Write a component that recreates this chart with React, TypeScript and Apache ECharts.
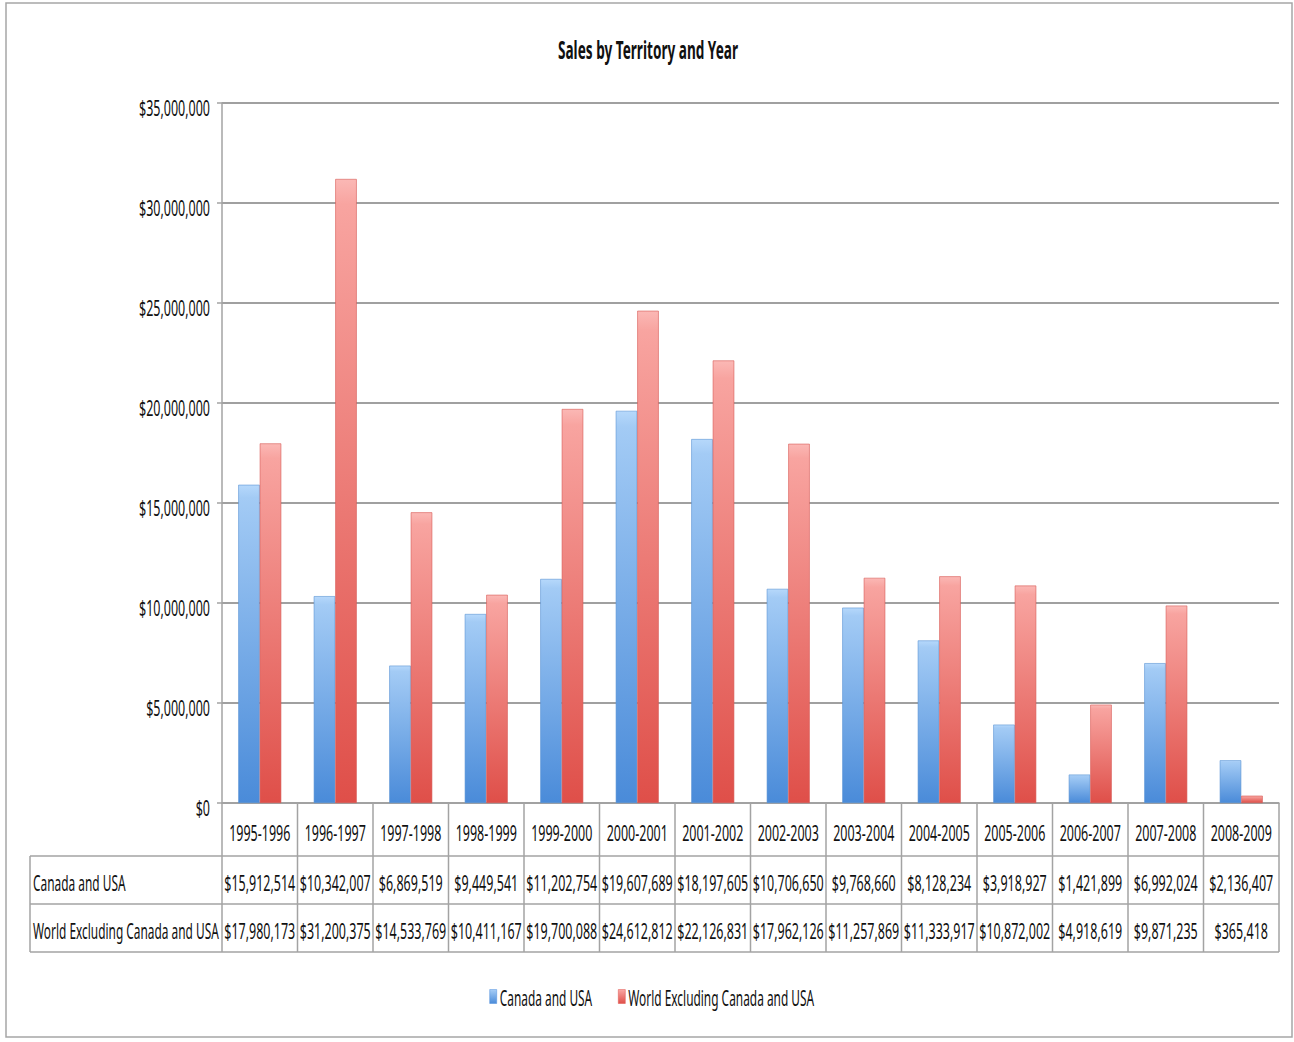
import React, { useEffect, useRef } from "react";
import * as echarts from "echarts";

// Fiscal-year categories and sales per territory
const seasons = [
  "1995-1996", "1996-1997", "1997-1998", "1998-1999", "1999-2000", "2000-2001", "2001-2002",
  "2002-2003", "2003-2004", "2004-2005", "2005-2006", "2006-2007", "2007-2008", "2008-2009",
];
const canadaUsa = [
  15912514, 10342007, 6869519, 9449541, 11202754, 19607689, 18197605,
  10706650, 9768660, 8128234, 3918927, 1421899, 6992024, 2136407,
];
const worldExcluding = [
  17980173, 31200375, 14533769, 10411167, 19700088, 24612812, 22126831,
  17962126, 11257869, 11333917, 10872002, 4918619, 9871235, 365418,
];
const seriesNames = ["Canada and USA", "World Excluding Canada and USA"];
const yTickValues = [0, 5000000, 10000000, 15000000, 20000000, 25000000, 30000000, 35000000];
const chartTitle = "Sales by Territory and Year";

const FONT = "'Noto Sans', 'Open Sans', sans-serif";
const FONT_SIZE = 12.5;
const STRETCH = 1.75;
const TEXT_COLOR = "#111111";
const LINE_COLOR = "#a3a3a3";

const money = (v: number) => "$" + v.toLocaleString("en-US");

const blueFill = {
  type: "linear", x: 0, y: 0, x2: 0, y2: 1,
  colorStops: [
    { offset: 0, color: "#b6d8fb" },
    { offset: 0.04, color: "#a3cbf5" },
    { offset: 1, color: "#4a8bd9" },
  ],
};
const redFill = {
  type: "linear", x: 0, y: 0, x2: 0, y2: 1,
  colorStops: [
    { offset: 0, color: "#fbb8b5" },
    { offset: 0.04, color: "#f8a4a0" },
    { offset: 1, color: "#df4f49" },
  ],
};
const legendColors = ["#4f8fdc", "#e0534d"];

function measure(text: string, size: number, weight = "normal") {
  const ctx = document.createElement("canvas").getContext("2d");
  if (!ctx) return text.length * size * 0.55;
  ctx.font = `${weight} ${size}px ${FONT}`;
  return ctx.measureText(text).width;
}

function label(
  text: string,
  x: number,
  y: number,
  align: "left" | "center" | "right" = "center",
  extra: Record<string, any> = {}
) {
  return {
    type: "text",
    x,
    y,
    scaleX: extra.scaleX ?? 1,
    scaleY: extra.scaleY ?? STRETCH,
    silent: true,
    z: 10,
    style: {
      text,
      fontFamily: FONT,
      fontSize: extra.fontSize ?? FONT_SIZE,
      fontWeight: extra.fontWeight ?? "normal",
      fill: TEXT_COLOR,
      align,
      verticalAlign: "middle",
    },
  };
}

function hLine(x1: number, x2: number, y: number) {
  return {
    type: "line",
    silent: true,
    shape: { x1, y1: y, x2, y2: y },
    style: { stroke: LINE_COLOR, lineWidth: 1.5 },
  };
}
function vLine(x: number, y1: number, y2: number) {
  return {
    type: "line",
    silent: true,
    shape: { x1: x, y1, x2: x, y2 },
    style: { stroke: LINE_COLOR, lineWidth: 1.5 },
  };
}

export default function App() {
  const ref = useRef<HTMLDivElement>(null);

  useEffect(() => {
    document.body.style.margin = "0";
    if (!ref.current) return;
    const chart = echarts.init(ref.current, undefined, { renderer: "svg" });

    chart.setOption({
      animation: false,
      backgroundColor: "#ffffff",
      grid: { left: 222, right: 15, top: 103, bottom: 239, containLabel: false },
      xAxis: {
        type: "category",
        data: seasons,
        axisLine: { lineStyle: { color: LINE_COLOR, width: 1.5 } },
        axisTick: { show: false },
        axisLabel: { show: false },
      },
      yAxis: {
        type: "value",
        min: 0,
        max: 35000000,
        interval: 5000000,
        axisLine: { show: true, lineStyle: { color: LINE_COLOR, width: 1.5 } },
        axisTick: { show: true, length: 5, lineStyle: { color: LINE_COLOR, width: 1.5 } },
        axisLabel: { show: false },
        splitLine: { lineStyle: { color: "#a0a0a0", width: 2 } },
      },
      series: [
        {
          name: seriesNames[0],
          type: "bar",
          data: canadaUsa,
          barWidth: 21.5,
          barGap: "0%",
          itemStyle: { color: blueFill, borderColor: "#5b93d4", borderWidth: 0.6 },
        },
        {
          name: seriesNames[1],
          type: "bar",
          data: worldExcluding,
          barWidth: 21.5,
          barGap: "0%",
          itemStyle: { color: redFill, borderColor: "#d65a55", borderWidth: 0.6 },
        },
      ],
    });

    // Layout of the axis labels and the data table, taken from the chart's own scales
    const px = (i: number) => chart.convertToPixel({ xAxisIndex: 0 }, i) as number;
    const py = (v: number) => chart.convertToPixel({ yAxisIndex: 0 }, v) as number;
    const band = px(1) - px(0);
    const xStart = px(0) - band / 2;
    const xEnd = px(seasons.length - 1) + band / 2;
    const y0 = py(0);
    const headerBottom = y0 + 53;
    const row1Bottom = headerBottom + 48;
    const row2Bottom = row1Bottom + 48;
    const tableLeft = 30;

    // series names are squeezed so the longest one fits the row-header column
    const nameWidths = seriesNames.map((n) => measure(n, FONT_SIZE));
    const nameScale = Math.min(1, (xStart - tableLeft - 6) / Math.max(...nameWidths));

    const graphics: any[] = [];

    // outer chart frame
    graphics.push({
      type: "rect",
      silent: true,
      shape: { x: 6, y: 3, width: 1286, height: 1034 },
      style: { fill: "none", stroke: "#a6a6a6", lineWidth: 1.5 },
    });

    // title
    graphics.push(label(chartTitle, 648, 50, "center", { fontSize: 13.6, fontWeight: "bold", scaleY: 1.8 }));

    // value axis labels
    yTickValues.forEach((v) => graphics.push(label(money(v), 210, py(v) + 4, "right")));

    // table grid
    graphics.push(hLine(tableLeft, xEnd, headerBottom));
    graphics.push(hLine(tableLeft, xEnd, row1Bottom));
    graphics.push(hLine(tableLeft, xEnd, row2Bottom));
    graphics.push(vLine(tableLeft, headerBottom, row2Bottom));
    for (let i = 0; i <= seasons.length; i++) {
      graphics.push(vLine(xStart + i * band, y0, row2Bottom));
    }

    // table text
    const rows = [canadaUsa, worldExcluding];
    const rowCenters = [(headerBottom + row1Bottom) / 2 + 2, (row1Bottom + row2Bottom) / 2 + 2];
    seasons.forEach((s, i) => graphics.push(label(s, px(i), (y0 + headerBottom) / 2 + 3)));
    rows.forEach((vals, r) => {
      graphics.push(label(seriesNames[r], tableLeft + 3, rowCenters[r], "left", { scaleX: nameScale }));
      vals.forEach((v, i) => graphics.push(label(money(v), px(i), rowCenters[r])));
    });

    // legend
    const iconW = 7;
    const iconGap = 3;
    const itemGap = 26;
    const widths = nameWidths.map((w) => w * nameScale);
    const total = widths.reduce((a, w) => a + iconW + iconGap + w, 0) + itemGap * (seriesNames.length - 1);
    let lx = 652 - total / 2;
    const ly = 997;
    seriesNames.forEach((n, i) => {
      graphics.push({
        type: "rect",
        silent: true,
        shape: { x: lx, y: ly - 7.5, width: iconW, height: 14 },
        style: { fill: i === 0 ? blueFill : redFill, stroke: legendColors[i], lineWidth: 0.5 },
      });
      graphics.push(label(n, lx + iconW + iconGap, ly, "left", { scaleX: nameScale }));
      lx += iconW + iconGap + widths[i] + itemGap;
    });

    chart.setOption({ graphic: graphics });

    return () => chart.dispose();
  }, []);

  return <div ref={ref} style={{ width: 1294, height: 1042 }} />;
}
